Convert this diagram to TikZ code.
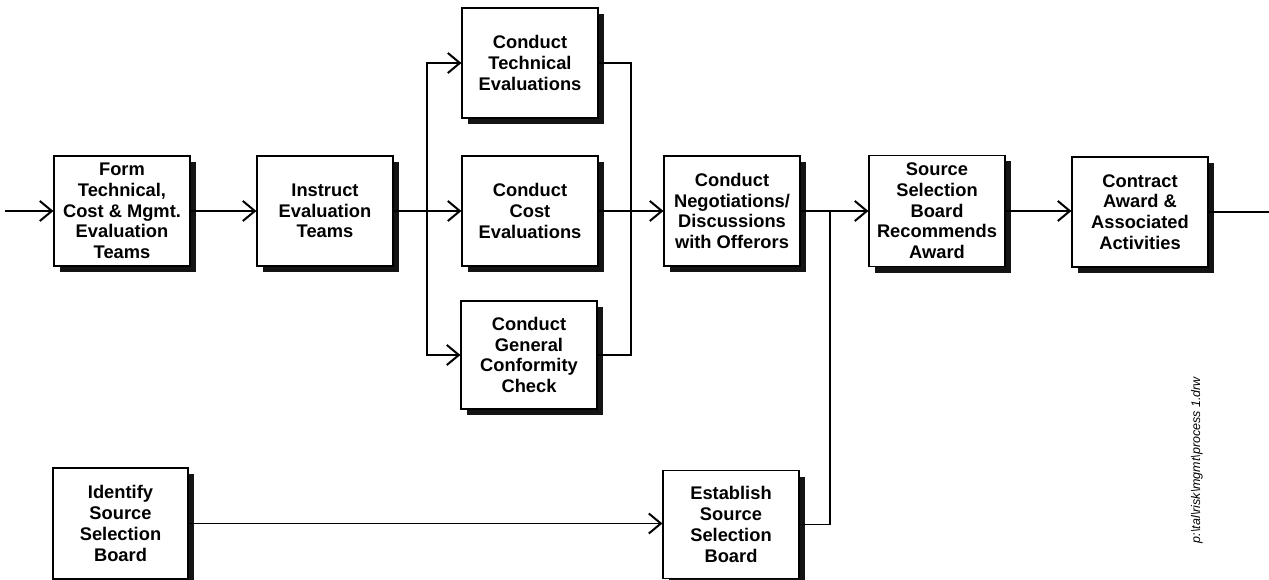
\documentclass[tikz,border=0pt]{standalone}
\usepackage{fontspec}
\setmainfont{Liberation Sans}
\usetikzlibrary{arrows.meta,shadows}
\begin{document}
\begin{tikzpicture}[x=1pt,y=-1pt,
  procbox/.style={draw=black, line width=1.2pt, fill=white, align=center,
    minimum width=136pt, minimum height=110pt, inner sep=1pt,
    font=\bfseries\fontsize{18.3}{20.7}\selectfont,
    drop shadow={shadow xshift=6pt, shadow yshift=-6pt, fill=black!92, opacity=1}},
  flow/.style={line width=1.1pt},
  flowarrow/.style={flow, -{Straight Barb[length=12pt,width=20pt,line width=2pt]}}]
\useasboundingbox (0,0) rectangle (1269,580);

% process boxes
\node[procbox] (form) at (122,211) {Form\\Technical,\\Cost \& Mgmt.\\Evaluation\\Teams};
\node[procbox] (instruct) at (325,211) {Instruct\\Evaluation\\Teams};
\node[procbox] (tech) at (530,63) {Conduct\\Technical\\Evaluations};
\node[procbox] (cost) at (530,211) {Conduct\\Cost\\Evaluations};
\node[procbox, minimum height=108pt] (general) at (529,355) {Conduct\\General\\Conformity\\Check};
\node[procbox] (nego) at (732,211) {Conduct\\Negotiations/\\Discussions\\with Offerors};
\node[procbox, minimum height=111pt] (rec) at (937,211) {Source\\Selection\\Board\\Recommends\\Award};
\node[procbox] (contract) at (1140,212) {Contract\\Award \&\\Associated\\Activities};
\node[procbox, minimum width=135pt, minimum height=111pt] (identify) at (120.5,523.5) {Identify\\Source\\Selection\\Board};
\node[procbox, minimum height=108pt] (establish) at (731,524.5) {Establish\\Source\\Selection\\Board};

% file reference
\node[rotate=90, font=\itshape\fontsize{12.5}{14}\selectfont] (fileref) at (1197,460)
  {p:\textbackslash tal\textbackslash risk\textbackslash mgmt\textbackslash process 1.drw};

% connector points
\coordinate (in) at (5,211);
\coordinate (split) at (427,211);
\coordinate (join) at (631,211);
\coordinate (merge) at (830,211);
\coordinate (out) at (1269,211);

% connectors
\draw[flowarrow] (in) -- (form.west);
\draw[flowarrow] (form.east) -- (instruct.west);
\draw[flowarrow] (instruct.east) -- (cost.west);
\draw[flowarrow] (split) |- (tech.west);
\draw[flowarrow] (split) |- (general.west);
\draw[flow] (tech.east) -| (join);
\draw[flow] (general.east) -| (join);
\draw[flowarrow] (cost.east) -- (nego.west);
\draw[flowarrow] (nego.east) -- (rec.west);
\draw[flow] (establish.east) -| (merge);
\draw[flowarrow] (identify.east) -- (identify.east -| establish.west);
\draw[flowarrow] (rec.east) -- (rec.east -| contract.west);
\draw[flow] (contract.east) -- (contract.east -| out);
\end{tikzpicture}
\end{document}
